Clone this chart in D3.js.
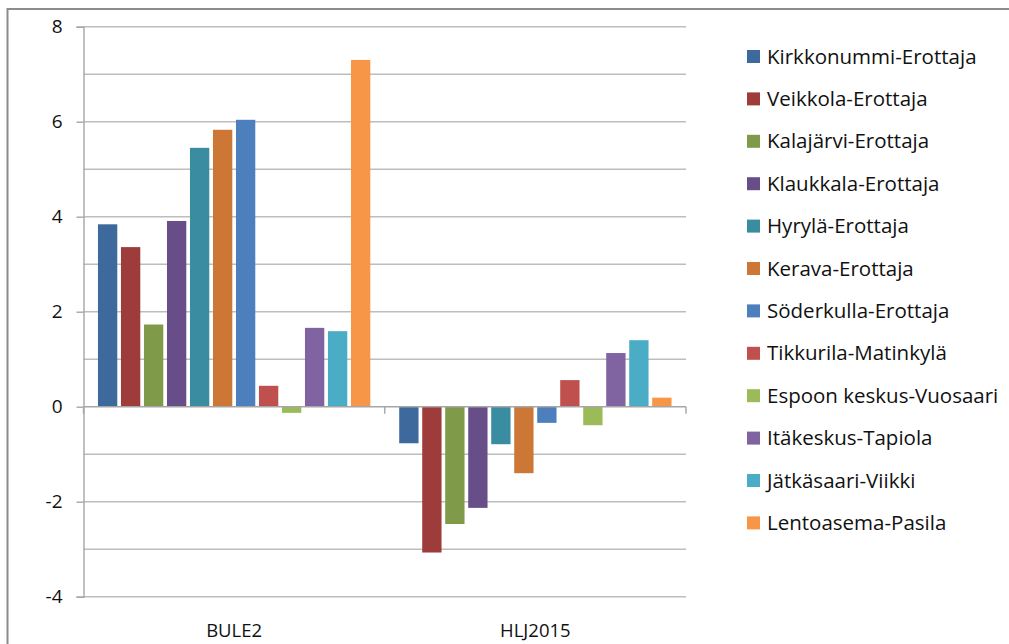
<!DOCTYPE html>
<meta charset="utf-8">
<head>
    <script type="text/javascript" src="https://cdn.jsdelivr.net/npm/d3@7"></script>
    <style>
        body {
            margin: 0;
            background: white;
            font-family: "Open Sans", sans-serif;
        }
        .grid line {
            stroke: #bdbdbd;
            stroke-width: 1.4;
        }
        .tick text {
            fill: #111;
        }
    </style>
    <title>BULE2 / HLJ2015</title>
</head>
<body>
    <div id="chart"></div>
    <script>
        // data
        var groups = ["BULE2", "HLJ2015"];
        var routes = ["Kirkkonummi-Erottaja", "Veikkola-Erottaja", "Kalajärvi-Erottaja", "Klaukkala-Erottaja",
                      "Hyrylä-Erottaja", "Kerava-Erottaja", "Söderkulla-Erottaja", "Tikkurila-Matinkylä",
                      "Espoon keskus-Vuosaari", "Itäkeskus-Tapiola", "Jätkäsaari-Viikki", "Lentoasema-Pasila"];
        var bule2 = [3.84, 3.36, 1.73, 3.91, 5.45, 5.83, 6.04, 0.44, -0.13, 1.66, 1.59, 7.30];
        var hlj2015 = [-0.77, -3.07, -2.47, -2.13, -0.79, -1.40, -0.34, 0.56, -0.39, 1.13, 1.40, 0.19];
        var yTicks = [-4, -2, 0, 2, 4, 6, 8];
        var yGrid = [-4, -3, -2, -1, 1, 2, 3, 4, 5, 6, 7, 8];
        var colors = ["#3e699d", "#9d3c3b", "#7f9a48", "#684e88", "#3a8ca1", "#cd7737",
                      "#4d7fbd", "#c0504d", "#9bbb59", "#8064a2", "#4bacc6", "#f79646"];

        var w = 1009, h = 644;
        var plot = {left: 83.5, right: 686, top: 26.7, bottom: 596.7};

        var svg = d3.select("#chart").append("svg")
            .attr("width", w)
            .attr("height", h);

        // outer frame (cut off at right and bottom)
        svg.append("rect")
            .attr("x", 7.5).attr("y", 9)
            .attr("width", w + 20).attr("height", h + 20)
            .attr("fill", "none")
            .attr("stroke", "#8c8c8c")
            .attr("stroke-width", 2);

        var y = d3.scaleLinear().domain([-4, 8]).range([plot.bottom, plot.top]);
        var x0 = d3.scaleBand().domain(groups).range([plot.left, plot.right])
            .paddingInner(0.0838).paddingOuter(0.0419);
        var x1 = d3.scaleBand().domain(routes).range([0, x0.bandwidth()])
            .paddingInner(0.16).paddingOuter(0.08);
        var color = d3.scaleOrdinal().domain(routes).range(colors);

        // gridlines
        svg.append("g").attr("class", "grid")
            .selectAll("line").data(yGrid).enter().append("line")
            .attr("x1", plot.left).attr("x2", plot.right)
            .attr("y1", d => y(d)).attr("y2", d => y(d));

        // y axis
        var yAxis = svg.append("g")
            .attr("transform", "translate(" + plot.left + ",0)")
            .call(d3.axisLeft(y).tickValues(yTicks).tickSize(7).tickPadding(14).tickFormat(d => String(d)));
        yAxis.select(".domain").attr("stroke", "#a6a6a6").attr("stroke-width", 1.4);
        yAxis.selectAll(".tick line").attr("stroke", "#a6a6a6").attr("stroke-width", 1.4);
        yAxis.selectAll(".tick text").style("font-size", "19px").style("font-family", "Open Sans");

        // bars
        var rows = groups.map((g, i) => ({group: g, values: i === 0 ? bule2 : hlj2015}));
        svg.append("g").selectAll("g").data(rows).enter().append("g")
            .attr("transform", d => "translate(" + x0(d.group) + ",0)")
            .selectAll("rect")
            .data(d => d.values.map((v, i) => ({route: routes[i], value: v})))
            .enter().append("rect")
            .attr("x", d => x1(d.route))
            .attr("width", x1.bandwidth())
            .attr("y", d => y(Math.max(0, d.value)))
            .attr("height", d => Math.abs(y(d.value) - y(0)))
            .attr("fill", d => color(d.route));

        // x axis at zero
        var xAxis = svg.append("g");
        xAxis.append("line")
            .attr("x1", plot.left).attr("x2", plot.right)
            .attr("y1", y(0)).attr("y2", y(0))
            .attr("stroke", "#a6a6a6").attr("stroke-width", 1.4);
        xAxis.selectAll("line.cat").data([plot.left, x0.range()[0] + x0.step(), plot.right]).enter()
            .append("line").attr("class", "cat")
            .attr("x1", d => d).attr("x2", d => d)
            .attr("y1", y(0)).attr("y2", y(0) + 7)
            .attr("stroke", "#a6a6a6").attr("stroke-width", 1.4);

        // category labels
        svg.append("g").selectAll("text").data(groups).enter().append("text")
            .attr("x", d => x0(d) + x0.bandwidth() / 2)
            .attr("y", 637)
            .attr("text-anchor", "middle")
            .style("font-size", "18.5px")
            .style("fill", "#111")
            .text(d => d);

        // legend
        var legend = svg.append("g").attr("transform", "translate(747,56.5)");
        var item = legend.selectAll("g").data(routes).enter().append("g")
            .attr("transform", (d, i) => "translate(0," + (i * 42.4) + ")");
        item.append("rect")
            .attr("x", 0).attr("y", -6.5)
            .attr("width", 13).attr("height", 13)
            .attr("fill", d => color(d));
        item.append("text")
            .attr("x", 20).attr("y", 0)
            .attr("dy", "0.35em")
            .style("font-size", "20.5px")
            .style("fill", "#111")
            .text(d => d);
    </script>
</body>
</html>
